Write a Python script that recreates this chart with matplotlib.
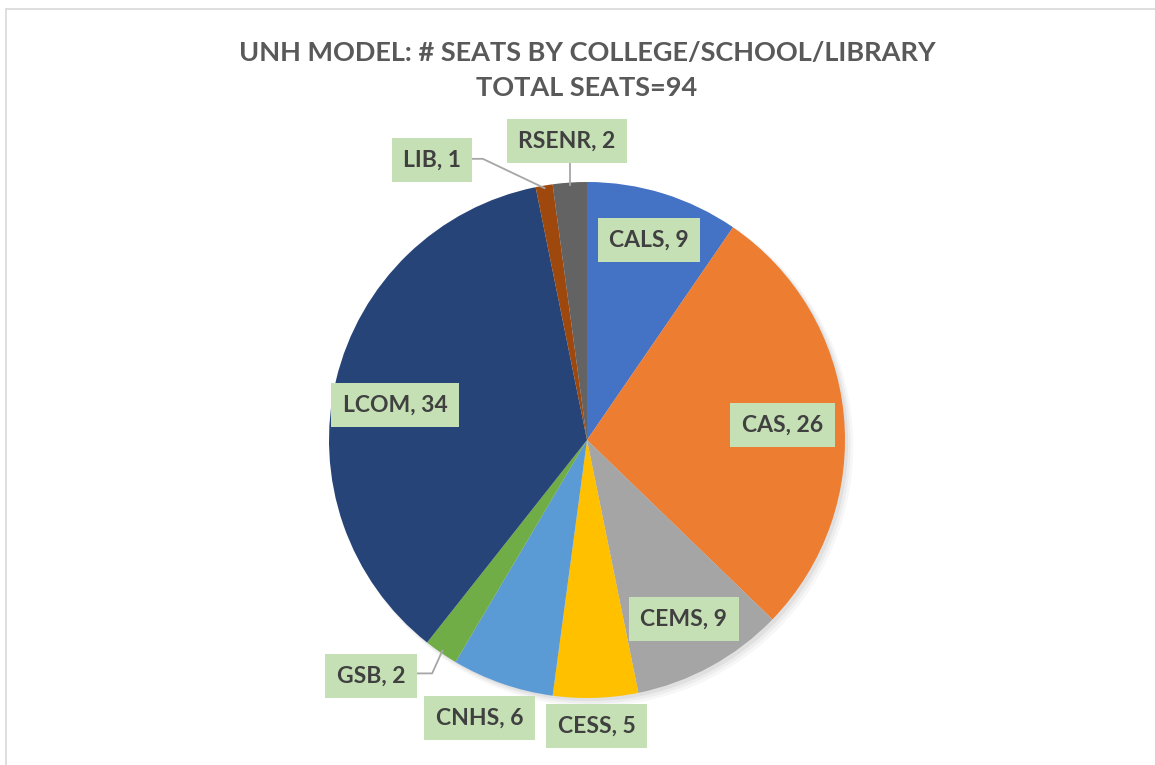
import numpy as np
import matplotlib.pyplot as plt
from matplotlib.patches import Rectangle

# Data
labels = ["CALS", "CAS", "CEMS", "CESS", "CNHS", "GSB", "LCOM", "LIB", "RSENR"]
seats = [9, 26, 9, 5, 6, 2, 34, 1, 2]
colors = ["#4472C4", "#ED7D31", "#A5A5A5", "#FFC000", "#5B9BD5",
          "#70AD47", "#264478", "#9E480E", "#636363"]
title = "UNH MODEL: # SEATS BY COLLEGE/SCHOOL/LIBRARY\nTOTAL SEATS=" + str(sum(seats))

# label placement: radius (in pie radii) and angle tweak (deg), leader line flag
label_r = [0.81, 0.76, 0.79, 1.11, 1.155, 1.24, 0.756, 1.24, 1.16]
label_dang = [0, -1.3, -0.4, 0, -2, -8, 3, 19.4, 0]
leader = [False, False, False, False, False, True, False, True, True]

plt.rcParams['font.family'] = ['Lato', 'DejaVu Sans']

W, H = 1155, 765
fig = plt.figure(figsize=(W / 100, H / 100), dpi=100)
ax = fig.add_axes([0, 0, 1, 1])
cx, cy, R = 587, 440, 258

# outer chart frame
fig.patches.append(Rectangle((6 / W, -0.01), 1.1, (H - 9) / H + 0.01,
                             transform=fig.transFigure, fill=False,
                             edgecolor="#D9D9D9", linewidth=1.2))

# faint shadow
for i, a in enumerate([0.05, 0.04, 0.03]):
    sh = plt.Circle((0.012 + i * 0.006, -0.012 - i * 0.006), 1.0 + i * 0.004,
                    color="black", alpha=a, linewidth=0, zorder=0)
    ax.add_patch(sh)

wedges, _ = ax.pie(seats, colors=colors, startangle=90, counterclock=False,
                   radius=1.0, center=(0, 0), frame=True,
                   wedgeprops=dict(linewidth=0))
ax.set_xlim(-cx / R, (W - cx) / R)
ax.set_ylim(-(H - cy) / R, cy / R)
ax.set_aspect("auto")
ax.axis("off")

for w, lab, val, r, da, ld in zip(wedges, labels, seats, label_r, label_dang, leader):
    mid = np.deg2rad((w.theta1 + w.theta2) / 2)
    ang = mid + np.deg2rad(da)
    x, y = r * np.cos(ang), r * np.sin(ang)
    ax.text(x, y, f"{lab}, {val}", ha="center", va="center",
            fontsize=16.5, fontweight="bold", color="#404040", zorder=5,
            bbox=dict(boxstyle="square,pad=0.5", fc="#C5E0B4", ec="none"))
    if ld:
        ex, ey = 0.99 * np.cos(mid), 0.99 * np.sin(mid)
        if lab == "RSENR":
            ax.plot([ex, ex], [ey, y - 0.08], color="#A6A6A6", lw=1.3, zorder=4)
        elif lab == "LIB":
            bx = x + 0.152
            ax.plot([ex, bx + 0.045, bx], [ey, y + 0.005, y + 0.005],
                    color="#A6A6A6", lw=1.3, zorder=4)
        else:
            bx = x + 0.18
            ax.plot([ex, ex - 0.04, bx], [ey, y + 0.01, y + 0.01],
                    color="#A6A6A6", lw=1.3, zorder=4)

fig.text(587 / W, 1 - 70 / H, title, ha="center", va="center", fontsize=19.5,
         fontweight="bold", color="#595959", linespacing=1.55)

fig.savefig("out.png", dpi=100, facecolor="white")
plt.close(fig)
